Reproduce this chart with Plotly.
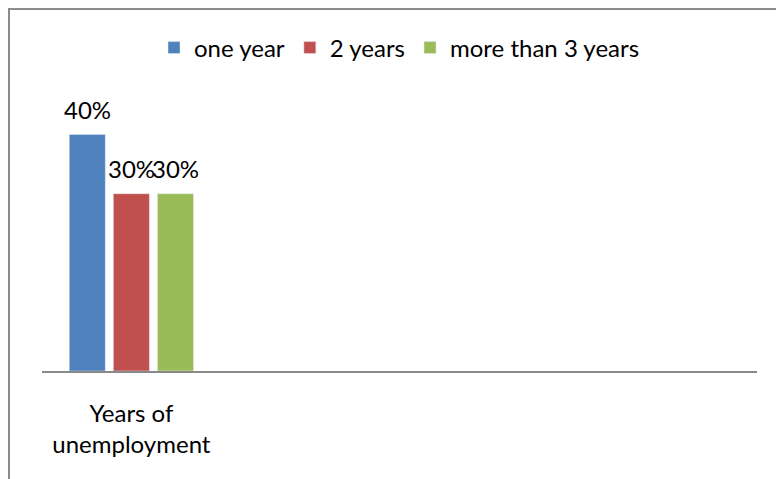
import plotly.graph_objects as go

categories = ["Years of unemployment", "cat2", "cat3", "cat4"]
tick_labels = ["Years of<br>unemployment"]
series_names = ["one year", "2 years", "more than 3 years"]
one_year = [0.40, None, None, None]
two_years = [0.30, None, None, None]
more_than_3 = [0.30, None, None, None]
colors = ["#4F81BD", "#C0504D", "#9BBB59"]

FONT = "Lato, Calibri, Carlito, sans-serif"
FS = 24

W, H = 776, 479
ml, mr, mt, mb = 42, 19, 105, 108
pw, ph = W - ml - mr, H - mt - mb
BARGAP = 0.26
slot = pw / len(categories) * (1 - BARGAP) / len(series_names)

fig = go.Figure()
annotations = []
series = [one_year, two_years, more_than_3]
for i, (name, vals, col) in enumerate(zip(series_names, series, colors)):
    fig.add_trace(go.Bar(name=name, x=categories, y=vals, marker_color=col))
    for c, v in zip(categories, vals):
        if v is None:
            continue
        annotations.append(dict(
            x=c, y=v, xref="x", yref="y", text=f"{v*100:.0f}%", showarrow=False,
            yanchor="bottom", xanchor="center", yshift=9,
            xshift=(i - (len(series_names) - 1) / 2) * slot,
            font=dict(family=FONT, size=FS, color="#000000")))

fig.update_layout(
    width=W, height=H, barmode="group", bargap=BARGAP, bargroupgap=0.182,
    margin=dict(l=ml, r=mr, t=mt, b=mb),
    paper_bgcolor="white", plot_bgcolor="white",
    font=dict(family=FONT, size=FS, color="#000000"),
    showlegend=True,
    legend=dict(orientation="h", x=0.5, xanchor="center", y=(H - mb - 48) / ph, yanchor="middle",
                font=dict(family=FONT, size=FS), itemwidth=30, traceorder="normal"),
    xaxis=dict(tickmode="array", tickvals=[categories[0]], ticktext=tick_labels,
               showline=True, linecolor="#898989", linewidth=2, ticks="",
               showgrid=False, zeroline=False, ticklabelstandoff=20,
               tickfont=dict(family=FONT, size=FS)),
    yaxis=dict(range=[0, 0.45], visible=False, showgrid=False, zeroline=False),
    annotations=annotations,
    shapes=[dict(type="rect", xref="paper", yref="paper",
                 x0=(9 - ml) / pw, x1=1.2, y0=-1.0, y1=(H - mb - 9) / ph,
                 line=dict(color="#8c8c8c", width=2), fillcolor="rgba(0,0,0,0)")],
)

fig.write_html("out.html")
